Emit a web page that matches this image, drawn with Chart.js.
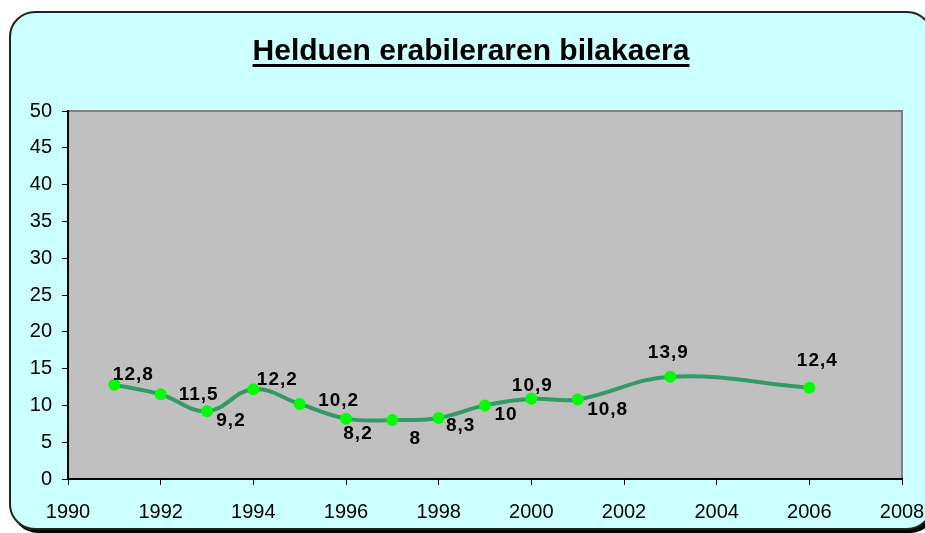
<!DOCTYPE html>
<html>
<head>
<meta charset="utf-8">
<script src="https://cdn.jsdelivr.net/npm/chart.js@4/dist/chart.umd.min.js"></script>
<style>
  html, body { margin: 0; padding: 0; background: #fff; }
  #wrap { position: relative; width: 925px; height: 533px; overflow: hidden; }
  #frame {
    position: absolute; left: 9px; top: 11px; width: 920px; height: 515px;
    background: #ccffff; border: 2px solid #222; border-radius: 26px;
    box-shadow: 3px 3px 0 #000;
  }
  #chart { position: absolute; left: 0; top: 0; }
</style>
</head>
<body>
<div id="wrap">
  <div id="frame"></div>
  <canvas id="chart" width="925" height="533"></canvas>
</div>
<script>
// Datuak
const titleText = 'Helduen erabileraren bilakaera';
const years = [1991, 1992, 1993, 1994, 1995, 1996, 1997, 1998, 1999, 2000, 2001, 2003, 2006];
const values = [12.8, 11.5, 9.2, 12.2, 10.2, 8.2, 8, 8.3, 10, 10.9, 10.8, 13.9, 12.4];
const labels = ['12,8', '11,5', '9,2', '12,2', '10,2', '8,2', '8', '8,3', '10', '10,9', '10,8', '13,9', '12,4'];
// etiketen desplazamendua puntuarekiko (px)
const labelDx = [19, 38, 24, 24, 39, 12, 23, 22, 21, 1, 30, -2, 8];
const labelDy = [-10, 0, 9, -9, -3, 15, 19, 8, 9, -13, 10, -24, -27];

const FONT = 'Arial, "Liberation Sans", sans-serif';

// plot area background + title + data labels
const decor = {
  id: 'decor',
  beforeDraw(chart) {
    const { ctx, chartArea: a } = chart;
    ctx.save();
    ctx.fillStyle = '#c0c0c0';
    ctx.fillRect(a.left, a.top, a.right - a.left, a.bottom - a.top);
    ctx.strokeStyle = '#808080';
    ctx.lineWidth = 2;
    ctx.beginPath();
    ctx.moveTo(a.left, a.top);
    ctx.lineTo(a.right, a.top);
    ctx.lineTo(a.right, a.bottom);
    ctx.stroke();
    // title
    ctx.font = 'bold 30px ' + FONT;
    ctx.letterSpacing = '0px';
    ctx.fillStyle = '#000';
    ctx.textAlign = 'center';
    ctx.textBaseline = 'alphabetic';
    const cx = 471, by = 60;
    ctx.fillText(titleText, cx, by);
    const w = ctx.measureText(titleText).width;
    ctx.fillRect(cx - w / 2, by + 4, w, 3);
    ctx.restore();
  },
  afterDatasetsDraw(chart) {
    const { ctx } = chart;
    const meta = chart.getDatasetMeta(0);
    ctx.save();
    ctx.font = 'bold 19px ' + FONT;
    ctx.letterSpacing = '1px';
    ctx.fillStyle = '#000';
    ctx.textAlign = 'center';
    ctx.textBaseline = 'middle';
    meta.data.forEach((pt, i) => {
      ctx.fillText(labels[i], pt.x + labelDx[i], pt.y + labelDy[i]);
    });
    ctx.restore();
  }
};

const tickFont = { family: FONT, size: 20 };

new Chart(document.getElementById('chart').getContext('2d'), {
  type: 'line',
  data: {
    datasets: [{
      data: years.map((y, i) => ({ x: y, y: values[i] })),
      borderColor: '#339966',
      borderWidth: 4,
      tension: 0.4,
      pointRadius: 6,
      pointBackgroundColor: '#00ff00',
      pointBorderWidth: 0,
      fill: false
    }]
  },
  options: {
    responsive: false,
    animation: false,
    layout: { padding: { top: 111, right: 23, left: 0, bottom: 0 } },
    plugins: { legend: { display: false }, tooltip: { enabled: false } },
    scales: {
      x: {
        type: 'linear', min: 1990, max: 2008,
        ticks: { stepSize: 2, color: '#000', font: tickFont, padding: 15, callback: v => String(v) },
        grid: { drawOnChartArea: false, tickLength: 6, color: '#000' },
        border: { color: '#000', width: 2 },
        afterFit: s => { s.height = 54; s.paddingLeft = 0; s.paddingRight = 0; }
      },
      y: {
        min: 0, max: 50,
        ticks: { stepSize: 5, color: '#000', font: tickFont, padding: 10 },
        grid: { drawOnChartArea: false, tickLength: 6, color: '#000' },
        border: { color: '#000', width: 2 },
        afterFit: s => { s.width = 68; s.paddingTop = 0; s.paddingBottom = 0; }
      }
    }
  },
  plugins: [decor]
});
</script>
</body>
</html>
